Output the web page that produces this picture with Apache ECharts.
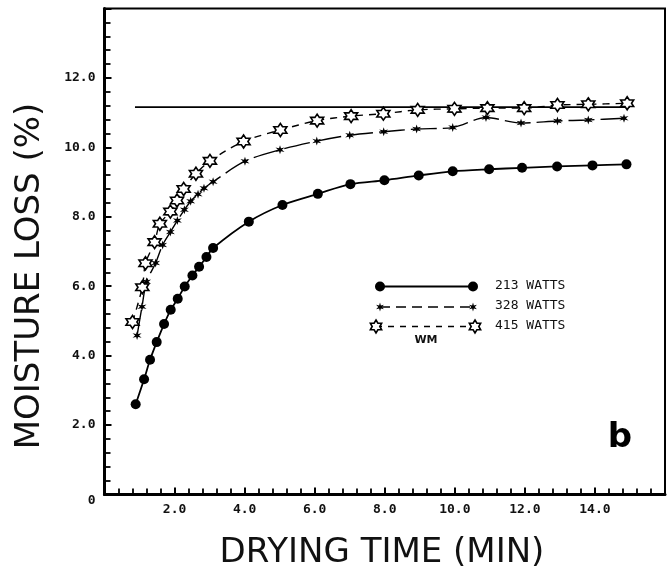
<!DOCTYPE html>
<html>
<head>
<meta charset="utf-8">
<script src="https://cdn.jsdelivr.net/npm/echarts@6/dist/echarts.min.js"></script>
<style>
  html, body { margin: 0; padding: 0; background: #fff; }
  #chart { width: 668px; height: 576px; }
</style>
</head>
<body>
<div id="chart"></div>
<script>
// Moisture loss vs drying time at three microwave power levels
const TIME_213 = [0.89, 1.13, 1.30, 1.49, 1.70, 1.89, 2.09, 2.29, 2.51, 2.70, 2.91, 3.10,
                  4.12, 5.08, 6.09, 7.02, 7.99, 8.97, 9.94, 10.98, 11.92, 12.92, 13.93, 14.90];
const LOSS_213 = [2.60, 3.32, 3.88, 4.39, 4.91, 5.32, 5.64, 5.99, 6.31, 6.56, 6.84, 7.10,
                  7.86, 8.34, 8.66, 8.94, 9.05, 9.19, 9.31, 9.37, 9.41, 9.45, 9.48, 9.51];

const TIME_328 = [0.93, 1.07, 1.20, 1.46, 1.66, 1.88, 2.08, 2.28, 2.46, 2.67, 2.84, 3.10,
                  4.01, 5.01, 6.06, 7.00, 7.97, 8.91, 9.94, 10.89, 11.89, 12.93, 13.81, 14.83];
const LOSS_328 = [4.58, 5.41, 6.13, 6.67, 7.19, 7.56, 7.89, 8.20, 8.45, 8.65, 8.82, 9.01,
                  9.60, 9.93, 10.18, 10.35, 10.45, 10.53, 10.57, 10.86, 10.70, 10.76, 10.79, 10.84];

const TIME_415 = [0.80, 1.08, 1.17, 1.43, 1.58, 1.88, 2.07, 2.26, 2.61, 3.01,
                  3.97, 5.02, 6.07, 7.04, 7.96, 8.94, 9.99, 10.93, 11.98, 12.93, 13.81, 14.92];
const LOSS_415 = [4.97, 5.97, 6.66, 7.27, 7.80, 8.15, 8.47, 8.80, 9.24, 9.61,
                  10.17, 10.50, 10.77, 10.90, 10.97, 11.08, 11.11, 11.13, 11.13, 11.22, 11.24, 11.27];

// Horizontal reference level
const LEVEL_TIME = [0.87, 15.0];
const LEVEL_LOSS = [11.16, 11.16];

const LEGEND_LABELS = ['213 WATTS', '328 WATTS', '415 WATTS'];
const LEGEND_NOTE = 'WM';
const X_TITLE = 'DRYING TIME (MIN)';
const Y_TITLE = 'MOISTURE LOSS (%)';
const PANEL_TAG = 'b';

const zip = (xs, ys) => xs.map((x, i) => [x, ys[i]]);

// six-pointed star outline, as polygon points around (cx,cy)
function starPoints(cx, cy, rOut, rIn) {
  const pts = [];
  for (let k = 0; k < 12; k++) {
    const a = -Math.PI / 2 + k * Math.PI / 6;
    const r = k % 2 === 0 ? rOut : rIn;
    pts.push([cx + r * Math.cos(a), cy + r * Math.sin(a)]);
  }
  return pts;
}
function starPath(rIn) {
  const pts = starPoints(0, 0, 10, 10 * rIn);
  return 'path://M' + pts.map(p => p[0].toFixed(2) + ' ' + p[1].toFixed(2)).join(' L') + ' Z';
}
const OPEN_STAR = starPath(0.58);
const SMALL_STAR = starPath(0.38);

const tickFont = { fontFamily: 'DejaVu Sans Mono', fontSize: 13, fontWeight: 'bold', color: '#111' };

const chart = echarts.init(document.getElementById('chart'));

const baseX = {
  type: 'value', min: 0, max: 16, interval: 2,
  splitLine: { show: false }
};
const baseY = {
  type: 'value', min: 0, max: 14, interval: 2,
  splitLine: { show: false }
};

const legendY = [286.5, 307, 326.5];
const legendGraphics = [];
// 213 W
legendGraphics.push({ type: 'line', shape: { x1: 380, y1: legendY[0], x2: 473, y2: legendY[0] },
  style: { stroke: '#000', lineWidth: 1.8 } });
[380, 473].forEach(x => legendGraphics.push({ type: 'circle', shape: { cx: x, cy: legendY[0], r: 5 },
  style: { fill: '#000' } }));
// 328 W
legendGraphics.push({ type: 'line', shape: { x1: 380, y1: legendY[1], x2: 473, y2: legendY[1] },
  style: { stroke: '#000', lineWidth: 1.3, lineDash: [10, 6] } });
[380, 473].forEach(x => legendGraphics.push({ type: 'polygon', shape: { points: starPoints(x, legendY[1], 4.5, 1.8) },
  style: { fill: '#000' } }));
// 415 W
legendGraphics.push({ type: 'line', shape: { x1: 376, y1: legendY[2], x2: 475, y2: legendY[2] },
  style: { stroke: '#000', lineWidth: 1.3, lineDash: [6, 6] } });
[376, 475].forEach(x => legendGraphics.push({ type: 'polygon', shape: { points: starPoints(x, legendY[2], 6.5, 3.8) },
  style: { fill: '#fff', stroke: '#000', lineWidth: 1.6 } }));
LEGEND_LABELS.forEach((t, i) => legendGraphics.push({
  type: 'text', x: 495, y: legendY[i] - 1,
  style: { text: t, fontFamily: 'DejaVu Sans Mono', fontSize: 13, fill: '#111', verticalAlign: 'middle', align: 'left' }
}));
legendGraphics.push({ type: 'text', x: 426, y: 340,
  style: { text: LEGEND_NOTE, fontFamily: 'DejaVu Sans', fontSize: 11, fontWeight: 'bold', fill: '#111',
           align: 'center', verticalAlign: 'middle' } });

chart.setOption({
  backgroundColor: '#fff',
  animation: false,
  grid: { left: 104.5, right: 3, top: 8.5, bottom: 81.5, show: true, borderColor: '#000', borderWidth: 2 },
  xAxis: [
    Object.assign({}, baseX, {
      axisLine: { lineStyle: { color: '#000', width: 3 } },
      axisTick: { inside: true, length: 7, lineStyle: { color: '#000', width: 2 } },
      minorTick: { show: true, splitNumber: 5, length: 6, lineStyle: { color: '#000', width: 1.8 } },
      axisLabel: Object.assign({ margin: 9, formatter: v => (v === 0 || v === 16) ? '' : v.toFixed(1) }, tickFont)
    }),
    Object.assign({}, baseX, {
      axisLine: { show: false },
      axisTick: { inside: false, length: 4, lineStyle: { color: '#000', width: 2 } },
      axisLabel: { show: false }
    })
  ],
  yAxis: [
    Object.assign({}, baseY, {
      axisLine: { lineStyle: { color: '#000', width: 3 } },
      axisTick: { inside: true, length: 7, lineStyle: { color: '#000', width: 2 } },
      minorTick: { show: true, splitNumber: 5, length: 6, lineStyle: { color: '#000', width: 1.8 } },
      axisLabel: Object.assign({
        margin: 9,
        formatter: v => v === 14 ? '' : (v === 0 ? '{z|0}' : v.toFixed(1)),
        rich: { z: { fontFamily: 'DejaVu Sans Mono', fontSize: 13, fontWeight: 'bold', color: '#111', padding: [12, 0, 0, 0] } }
      }, tickFont)
    }),
    Object.assign({}, baseY, {
      axisLine: { show: false },
      axisTick: { inside: false, length: 4, lineStyle: { color: '#000', width: 2 } },
      axisLabel: { show: false }
    })
  ],
  series: [
    {
      name: 'level', type: 'line', data: zip(LEVEL_TIME, LEVEL_LOSS), symbol: 'none',
      lineStyle: { color: '#000', width: 1.6 }, silent: true, z: 1
    },
    {
      name: LEGEND_LABELS[0], type: 'line', data: zip(TIME_213, LOSS_213),
      symbol: 'circle', symbolSize: 10, smooth: 0.3,
      itemStyle: { color: '#000' }, lineStyle: { color: '#000', width: 1.8 }, z: 3
    },
    {
      name: LEGEND_LABELS[1], type: 'line', data: zip(TIME_328, LOSS_328),
      symbol: SMALL_STAR, symbolSize: 9, smooth: 0.3,
      itemStyle: { color: '#000' }, lineStyle: { color: '#000', width: 1.4, type: [26, 6] }, z: 3
    },
    {
      name: LEGEND_LABELS[2], type: 'line', data: zip(TIME_415, LOSS_415),
      symbol: OPEN_STAR, symbolSize: 13, smooth: 0.3,
      itemStyle: { color: '#fff', borderColor: '#000', borderWidth: 1.6 },
      lineStyle: { color: '#000', width: 1.4, type: [7, 6] }, z: 4
    }
  ],
  graphic: legendGraphics.concat([
    { type: 'text', x: 382, y: 553,
      style: { text: X_TITLE, fontFamily: 'DejaVu Sans', fontSize: 34, fill: '#111', align: 'center', verticalAlign: 'middle' } },
    { type: 'text', x: 30, y: 276, rotation: Math.PI / 2,
      style: { text: Y_TITLE, fontFamily: 'DejaVu Sans', fontSize: 34, fill: '#111', align: 'center', verticalAlign: 'middle' } },
    { type: 'text', x: 620, y: 438,
      style: { text: PANEL_TAG, fontFamily: 'DejaVu Sans', fontSize: 34, fontWeight: 'bold', fill: '#000', align: 'center', verticalAlign: 'middle' } }
  ])
});
</script>
</body>
</html>
